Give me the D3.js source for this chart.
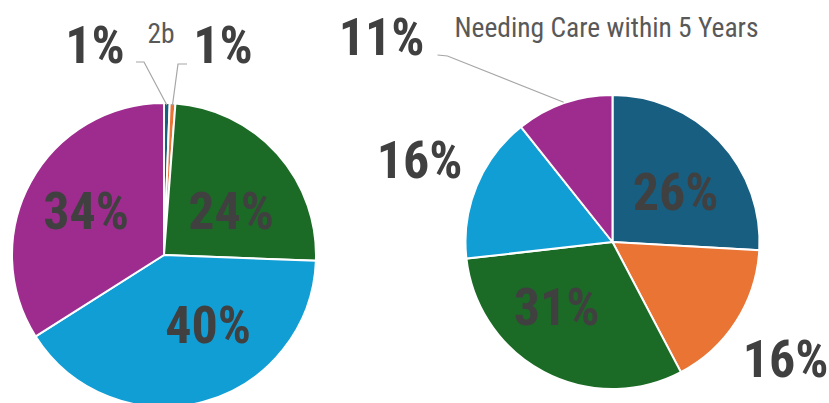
<!DOCTYPE html>
<html>
<head>
<meta charset="utf-8">
<script src="https://cdn.jsdelivr.net/npm/d3@7"></script>
<style>
  body { margin: 0; background: #fff; }
  svg text { font-family: "Liberation Sans Narrow", "Arial Narrow", "Roboto Condensed", sans-serif; }
  .big { font-weight: bold; font-size: 52px; fill: #404040; }
  .small { font-size: 27.5px; fill: #595959; }
  .leader { fill: none; stroke: #a6a6a6; stroke-width: 1.2; }
</style>
</head>
<body>
<svg width="829" height="403"></svg>
<script>
// chart data
var leftValues = [0.6, 0.6, 24.4, 40.4, 34.0];
var rightValues = [25.9, 16.4, 30.9, 16.1, 10.7];
var colors = ["#175e81", "#e97434", "#1b6b26", "#119ed5", "#9e2c8e"];

// label offsets from pie centre (x, baseline)
var leftLabelPos = [[-69, -192], [59, -192], [67, -26], [44, 88], [-78, -26]];
var rightLabelPos = [[63, -32], [173, 135], [-56, 83], [-193, -64], [-231, -187]];

var svg = d3.select("svg");

function draw_pie(values, cx, cy, r, labelPos) {
    var g = svg.append("g")
        .attr("transform", "translate(" + cx + "," + cy + ")");

    var pie = d3.pie().sort(null);
    var arc = d3.arc().innerRadius(0).outerRadius(r);

    g.selectAll("path")
        .data(pie(values))
        .enter().append("path")
        .attr("d", arc)
        .attr("fill", function (d, i) { return colors[i]; })
        .attr("stroke", "#fff")
        .attr("stroke-width", 2);

    g.selectAll("text.big")
        .data(values)
        .enter().append("text")
        .attr("class", "big")
        .attr("text-anchor", "middle")
        .attr("x", function (d, i) { return labelPos[i][0]; })
        .attr("y", function (d, i) { return labelPos[i][1]; })
        .text(function (d) { return Math.round(d) + "%"; });

    return {g: g, arc: arc, pie: pie(values), r: r};
}

var left = draw_pie(leftValues, 164, 255, 152, leftLabelPos);
var right = draw_pie(rightValues, 612.5, 242, 147, rightLabelPos);

// point on rim of a slice at fraction t across its angle
function rim(p, d, t, rr) {
    var a = d.startAngle + (d.endAngle - d.startAngle) * t;
    var rad = rr === undefined ? p.r : rr;
    return [Math.sin(a) * rad, -Math.cos(a) * rad];
}

// leaders, left pie
var pb = rim(left, left.pie[0], 0.5, 150);
left.g.append("polyline").attr("class", "leader")
    .attr("points", [[-28, -193], [-20, -193], pb].join(" "));
var po = rim(left, left.pie[1], 0.5, 150);
left.g.append("polyline").attr("class", "leader")
    .attr("points", [[23, -191], [14, -191], po].join(" "));
left.g.append("text").attr("class", "small")
    .attr("x", -3).attr("y", -212)
    .attr("text-anchor", "middle")
    .text("2b");

// leader, right pie
var pp = rim(right, right.pie[4], 0.5, 148);
right.g.append("polyline").attr("class", "leader")
    .attr("points", [[-175, -187], [-165, -186], pp].join(" "));
right.g.append("text").attr("class", "small")
    .attr("x", -158).attr("y", -205)
    .text("Needing Care within 5 Years");
</script>
</body>
</html>
